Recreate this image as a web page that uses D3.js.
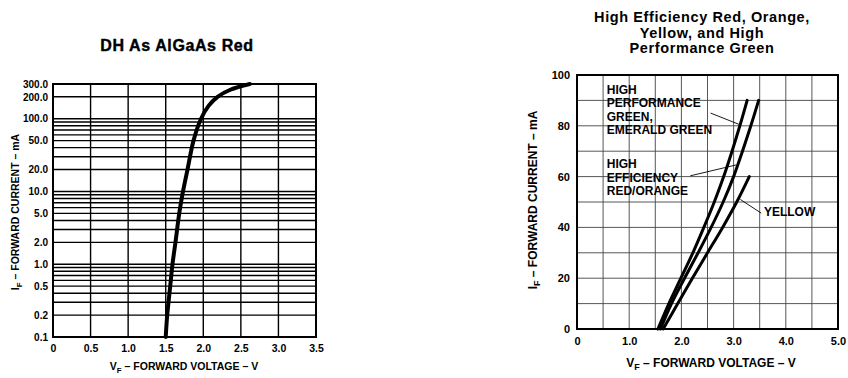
<!DOCTYPE html>
<html>
<head>
<meta charset="utf-8">
<title>LED forward characteristics</title>
<script src="https://d3js.org/d3.v7.min.js"></script>
<style>
  body { margin: 0; background: #fff; }
  svg { display: block; font-family: "Liberation Sans", Arial, sans-serif; font-weight: bold; }
  .gridL { stroke: #000; stroke-width: 1.4; }
  .gridR { stroke: #444; stroke-width: 0.9; }
  .frame { fill: none; stroke: #000; stroke-width: 2; }
  .curve { fill: none; stroke: #000; stroke-linecap: round; }
  .lead { stroke: #000; stroke-width: 0.9; }
</style>
</head>
<body>
<svg width="848" height="378"></svg>
<script>
// ---- left chart: DH As AlGaAs Red (log current) ----
var leftCurrent = [0.1, 0.2, 0.5, 1, 2, 5, 10, 20, 50, 100, 150, 200, 250, 300];
var leftVoltage = [1.50, 1.52, 1.56, 1.59, 1.63, 1.68, 1.73, 1.79, 1.87, 1.97, 2.07, 2.19, 2.36, 2.62];
var leftYTicks = [0.1, 0.2, 0.5, 1, 2, 5, 10, 20, 50, 100, 200, 300];
var leftXTicks = [0, 0.5, 1.0, 1.5, 2.0, 2.5, 3.0, 3.5];

// ---- right chart: HER, orange, yellow, HP green ----
var rightCurrent = [0, 10, 20, 30, 40, 50, 60, 70, 80, 90];
var greenVoltage = [1.55, 1.76, 1.99, 2.22, 2.43, 2.63, 2.81, 2.97, 3.12, 3.26];
var redVoltage = [1.60, 1.81, 2.06, 2.32, 2.57, 2.80, 3.00, 3.17, 3.33, 3.48];
var yellowCurrent = [0, 10, 20, 30, 40, 50, 60];
var yellowVoltage = [1.65, 1.93, 2.21, 2.50, 2.79, 3.06, 3.30];
var rightYTicks = [0, 20, 40, 60, 80, 100];
var rightXTicks = [0, 1.0, 2.0, 3.0, 4.0, 5.0];

var svg = d3.select("svg");

function axisTitle(g, x, y, rotate, size, main, sub, rest) {
  var t = g.append("text")
    .attr("text-anchor", "middle")
    .attr("font-size", size)
    .attr("transform", "translate(" + x + "," + y + ")" + (rotate ? " rotate(-90)" : ""));
  t.append("tspan").text(main);
  t.append("tspan").attr("dy", 3).attr("font-size", size * 0.75).text(sub);
  t.append("tspan").attr("dy", -3).text(rest);
}

// left
var xL = d3.scaleLinear().domain([0, 3.5]).range([53, 316]);
var yL = d3.scaleLog().domain([0.1, 300]).range([337, 84]);
var L = svg.append("g");

var leftGrid = [];
[0.1, 1, 10].forEach(function(dec) {
  d3.range(1, 10).forEach(function(k) { leftGrid.push(dec * k); });
});
leftGrid.push(100, 200, 300);

L.selectAll(".hg").data(leftGrid).enter().append("line")
  .attr("class", "gridL")
  .attr("x1", xL(0)).attr("x2", xL(3.5))
  .attr("y1", function(d) { return yL(d); }).attr("y2", function(d) { return yL(d); });
L.selectAll(".vg").data(leftXTicks).enter().append("line")
  .attr("class", "gridL")
  .attr("y1", yL(0.1)).attr("y2", yL(300))
  .attr("x1", function(d) { return xL(d); }).attr("x2", function(d) { return xL(d); });
L.append("rect").attr("class", "frame")
  .attr("x", xL(0)).attr("y", yL(300))
  .attr("width", xL(3.5) - xL(0)).attr("height", yL(0.1) - yL(300));

L.append("g")
  .attr("transform", "translate(" + (xL(0) - 2) + ",0)")
  .call(d3.axisLeft(yL).tickValues(leftYTicks).tickSize(0).tickPadding(3)
    .tickFormat(function(d) { return d3.format(".1f")(d); }))
  .call(function(g) {
    g.select(".domain").remove();
    g.selectAll("text").attr("font-size", 10).attr("font-family", "Liberation Sans, Arial").attr("font-weight", "bold");
  });
L.append("g")
  .attr("transform", "translate(0," + (yL(0.1) + 2) + ")")
  .call(d3.axisBottom(xL).tickValues(leftXTicks).tickSize(0).tickPadding(6)
    .tickFormat(function(d) { return d === 0 ? "0" : d3.format(".1f")(d); }))
  .call(function(g) {
    g.select(".domain").remove();
    g.selectAll("text").attr("font-size", 10.5).attr("font-family", "Liberation Sans, Arial").attr("font-weight", "bold");
  });

var lineL = d3.line()
  .x(function(d) { return xL(d[0]); })
  .y(function(d) { return yL(d[1]); })
  .curve(d3.curveCatmullRom.alpha(0.5));
L.append("path").attr("class", "curve").attr("stroke-width", 4)
  .attr("d", lineL(leftVoltage.map(function(v, i) { return [v, leftCurrent[i]]; })));

L.append("text").attr("x", 177).attr("y", 51).attr("text-anchor", "middle")
  .attr("font-size", 16).attr("letter-spacing", 0.6).attr("stroke", "#000").attr("stroke-width", 0.4)
  .text("DH As AlGaAs Red");
axisTitle(L, 184, 370, false, 10.5, "V", "F", " \u2013 FORWARD VOLTAGE \u2013 V");
axisTitle(L, 19, 212, true, 10.5, "I", "F", " \u2013 FORWARD CURRENT \u2013 mA");

// right
var xR = d3.scaleLinear().domain([0, 5]).range([577, 838]);
var yR = d3.scaleLinear().domain([0, 100]).range([329, 75]);
var R = svg.append("g");

R.selectAll(".hg").data(d3.range(10, 100, 10)).enter().append("line")
  .attr("class", "gridR")
  .attr("x1", xR(0)).attr("x2", xR(5))
  .attr("y1", function(d) { return yR(d); }).attr("y2", function(d) { return yR(d); });
R.selectAll(".vg").data(d3.range(0.5, 5, 0.5)).enter().append("line")
  .attr("class", "gridR")
  .attr("y1", yR(0)).attr("y2", yR(100))
  .attr("x1", function(d) { return xR(d); }).attr("x2", function(d) { return xR(d); });
R.append("rect").attr("class", "frame")
  .attr("x", xR(0)).attr("y", yR(100))
  .attr("width", xR(5) - xR(0)).attr("height", yR(0) - yR(100));

R.append("g")
  .attr("transform", "translate(" + (xR(0) - 3) + ",0)")
  .call(d3.axisLeft(yR).tickValues(rightYTicks).tickSize(0).tickPadding(4))
  .call(function(g) {
    g.select(".domain").remove();
    g.selectAll("text").attr("font-size", 11).attr("font-family", "Liberation Sans, Arial").attr("font-weight", "bold");
  });
R.append("g")
  .attr("transform", "translate(0," + (yR(0) + 2) + ")")
  .call(d3.axisBottom(xR).tickValues(rightXTicks).tickSize(0).tickPadding(6)
    .tickFormat(function(d) { return d === 0 ? "0" : d3.format(".1f")(d); }))
  .call(function(g) {
    g.select(".domain").remove();
    g.selectAll("text").attr("font-size", 11).attr("font-family", "Liberation Sans, Arial").attr("font-weight", "bold");
  });

var lineR = d3.line()
  .x(function(d) { return xR(d[0]); })
  .y(function(d) { return yR(d[1]); })
  .curve(d3.curveCatmullRom.alpha(0.5));
[[greenVoltage, rightCurrent], [redVoltage, rightCurrent], [yellowVoltage, yellowCurrent]].forEach(function(s) {
  R.append("path").attr("class", "curve").attr("stroke-width", 3)
    .attr("d", lineR(s[0].map(function(v, i) { return [v, s[1][i]]; })));
});

// labels and leader lines
function block(lines, v, i0) {
  R.append("g").selectAll("text").data(lines).enter().append("text")
    .attr("x", xR(v)).attr("y", function(d, k) { return yR(i0) + k * 13.3; })
    .attr("font-size", 12).text(function(d) { return d; });
}
block(["HIGH", "PERFORMANCE", "GREEN,", "EMERALD GREEN"], 0.57, 92.5);
block(["HIGH", "EFFICIENCY", "RED/ORANGE"], 0.57, 63.3);
block(["YELLOW"], 3.58, 44.3);
function lead(v1, i1, v2, i2) {
  R.append("line").attr("class", "lead")
    .attr("x1", xR(v1)).attr("y1", yR(i1)).attr("x2", xR(v2)).attr("y2", yR(i2));
}
lead(2.56, 85.0, 3.10, 80.6);
lead(2.17, 60.3, 3.05, 64.6);
lead(3.13, 51.0, 3.53, 45.6);

[["High Efficiency Red, Orange,", 22], ["Yellow, and High", 38], ["Performance Green", 53]].forEach(function(t) {
  R.append("text").attr("x", 702).attr("y", t[1]).attr("text-anchor", "middle")
    .attr("font-size", 14.5).attr("letter-spacing", 0.6).text(t[0]);
});
axisTitle(R, 711, 367, false, 12, "V", "F", " \u2013 FORWARD VOLTAGE \u2013 V");
axisTitle(R, 537, 200, true, 12, "I", "F", " \u2013 FORWARD CURRENT \u2013 mA");
</script>
</body>
</html>
